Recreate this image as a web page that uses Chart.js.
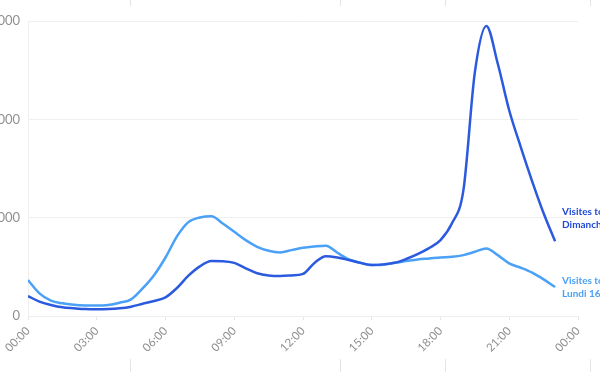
<!DOCTYPE html>
<html lang="fr">
<head>
<meta charset="UTF-8">
<title>Visites totales</title>
<script src="https://cdn.jsdelivr.net/npm/chart.js"></script>
<style>
  html, body { margin: 0; padding: 0; background: #fff; overflow: hidden; width: 600px; height: 372px; }
  #wrap { position: absolute; left: -20px; top: 0; width: 660px; height: 372px; }
  .sep { position: absolute; width: 1px; background: #e4e4e4; }
</style>
</head>
<body>
<div id="wrap"><canvas id="visitsChart"></canvas></div>
<div class="sep" style="left:130px;top:0;height:6px"></div>
<div class="sep" style="left:340px;top:0;height:6px"></div>
<div class="sep" style="left:445px;top:0;height:6px"></div>
<div class="sep" style="left:590px;top:0;height:6px"></div>
<div class="sep" style="left:130px;top:359px;height:13px"></div>
<div class="sep" style="left:340px;top:359px;height:13px"></div>
<div class="sep" style="left:445px;top:359px;height:13px"></div>
<div class="sep" style="left:590px;top:359px;height:13px"></div>
<script>
// heures (toutes les 30 min)
const hours = [0, 0.5, 1, 1.5, 2, 2.5, 3, 3.5, 4, 4.5, 5, 5.5, 6, 6.5, 7, 7.5, 8, 8.5, 9, 9.5,
  10, 10.5, 11, 11.5, 12, 12.5, 13, 13.5, 14, 14.5, 15, 15.5, 16, 16.5, 17, 17.5, 18, 18.5,
  19, 19.5, 20, 20.5, 21, 21.5, 22, 22.5, 23];

const dimanche = [203, 146, 112, 88, 78, 70, 68, 70, 78, 95, 124, 152, 190, 285, 410, 505,
  560, 558, 540, 485, 435, 412, 406, 412, 428, 540, 608, 595, 569, 540, 518, 525, 541, 580,
  629, 690, 772, 943, 1280, 2480, 2950, 2565, 2090, 1720, 1370, 1045, 760];

const lundi = [365, 230, 156, 129, 115, 108, 106, 112, 135, 169, 280, 415, 595, 810, 955,
  1002, 1015, 941, 856, 772, 704, 663, 647, 670, 694, 707, 715, 643, 575, 541, 518, 521, 541,
  558, 575, 585, 596, 602, 619, 653, 687, 619, 535, 491, 440, 372, 295];

const seriesNames = [['Visites totales', 'Dimanche 15'], ['Visites totales', 'Lundi 16']];
const yTicks = [0, 1000, 2000, 3000];

const darkBlue = '#2b5adf';
const lightBlue = '#4aa1f6';

function pts(vals) {
  return vals.map((v, i) => ({ x: hours[i], y: v }));
}

// étiquettes en bout de courbe
const endLabels = {
  id: 'endLabels',
  afterDatasetsDraw(chart) {
    const ctx = chart.ctx;
    const shifts = [-23, 0];
    ctx.save();
    ctx.font = 'bold 10px Lato';
    ctx.textBaseline = 'middle';
    chart.data.datasets.forEach((ds, i) => {
      const meta = chart.getDatasetMeta(i);
      const last = meta.data[meta.data.length - 1];
      ctx.fillStyle = i === 0 ? '#1f49d6' : lightBlue;
      const y0 = last.y + shifts[i] - 6.5;
      seriesNames[i].forEach((t, k) => ctx.fillText(t, last.x + 7, y0 + k * 13));
    });
    ctx.restore();
  }
};

const ctx = document.getElementById('visitsChart').getContext('2d');
const chart = new Chart(ctx, {
  type: 'line',
  data: {
    datasets: [
      {
        label: seriesNames[0].join(' '),
        data: pts(dimanche),
        borderColor: darkBlue,
        borderWidth: 2.5,
        pointRadius: 0,
        cubicInterpolationMode: 'monotone',
        fill: false
      },
      {
        label: seriesNames[1].join(' '),
        data: pts(lundi),
        borderColor: lightBlue,
        borderWidth: 2.5,
        pointRadius: 0,
        cubicInterpolationMode: 'monotone',
        fill: false
      }
    ]
  },
  options: {
    responsive: true,
    maintainAspectRatio: false,
    animation: false,
    devicePixelRatio: 1,
    layout: { padding: { top: 21, right: 62, left: 0, bottom: 0 } },
    plugins: {
      legend: { display: false },
      tooltip: { enabled: false }
    },
    scales: {
      x: {
        type: 'linear',
        min: 0,
        max: 24,
        afterBuildTicks(scale) {
          scale.ticks = [0, 3, 6, 9, 12, 15, 18, 21, 24].map(v => ({ value: v }));
        },
        afterFit(scale) { scale.height = 56; },
        grid: { drawOnChartArea: false, drawTicks: true, tickLength: 4, color: '#e6e6e6' },
        border: { color: '#eeeeee' },
        ticks: {
          minRotation: 45,
          maxRotation: 45,
          padding: 4,
          color: '#909090',
          font: { family: 'Lato', size: 11.5 },
          callback: v => String(v % 24).padStart(2, '0') + ':00'
        }
      },
      y: {
        min: 0,
        max: 3000,
        afterBuildTicks(scale) {
          scale.ticks = yTicks.map(v => ({ value: v }));
        },
        afterFit(scale) { scale.width = 48; },
        grid: { color: '#efefef', drawTicks: false },
        border: { color: '#eeeeee' },
        ticks: {
          padding: 8,
          color: '#909090',
          font: { family: 'Lato', size: 13 }
        }
      }
    }
  },
  plugins: [endLabels]
});
</script>
</body>
</html>
